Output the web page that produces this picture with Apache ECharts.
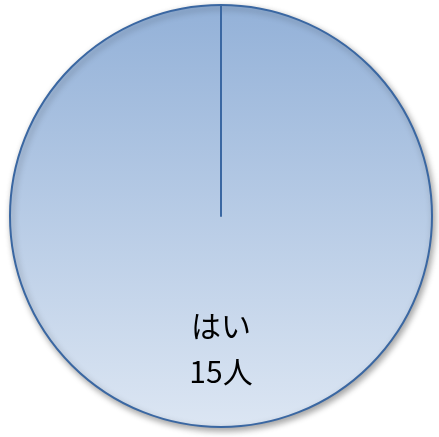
<!DOCTYPE html>
<html><head><meta charset="utf-8">
<script src="https://cdn.jsdelivr.net/npm/echarts@6/dist/echarts.min.js"></script>
<style>html,body{margin:0;padding:0;background:#fff}#c{width:439px;height:437px}</style>
</head><body><div id="c"></div>
<script>
const categories = ['はい'];
const values = [15];
const unit = '人';
const chart = echarts.init(document.getElementById('c'));
chart.setOption({
  backgroundColor: '#ffffff',
  animation: false,
  polar: { center: [221, 216], radius: 211 },
  angleAxis: { show: false, startAngle: 90, min: 0, max: 1 },
  radiusAxis: {
    min: 0, max: 1, z: 10,
    axisLine: { show: true, lineStyle: { color: '#3a67a2', width: 2 } },
    axisTick: { show: false }, axisLabel: { show: false }, splitLine: { show: false }
  },
  series: [{
    type: 'pie',
    center: [221, 216],
    radius: [0, 211],
    startAngle: 90,
    clockwise: true,
    data: categories.map((c, i) => ({ name: c, value: values[i] })),
    itemStyle: {
      color: new echarts.graphic.LinearGradient(0, 0, 0, 1, [
        { offset: 0, color: '#93b1d8' },
        { offset: 1, color: '#dce6f3' }
      ]),
      borderColor: '#3a67a2',
      borderWidth: 2,
      shadowBlur: 6,
      shadowOffsetX: 2,
      shadowOffsetY: 3,
      shadowColor: 'rgba(0,0,0,0.35)'
    },
    emphasis: { disabled: true },
    label: {
      position: 'inside',
      formatter: p => '{s|}\n{a|' + p.name + '}\n{a|' + p.value + unit + '}',
      rich: {
        s: { lineHeight: 48, fontSize: 1 },
        a: { fontFamily: 'Noto Sans CJK JP', fontSize: 30, lineHeight: 46, color: '#000' }
      }
    },
    labelLine: { show: false }
  }]
});
</script></body></html>
